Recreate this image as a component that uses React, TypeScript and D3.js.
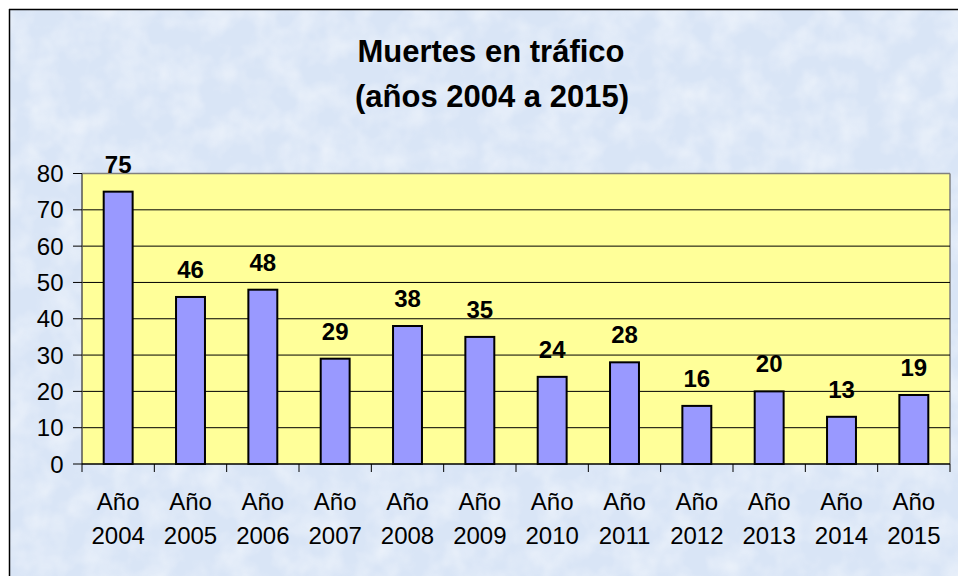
import React from "react";
import * as d3 from "d3";

const categories = ["2004", "2005", "2006", "2007", "2008", "2009", "2010", "2011", "2012", "2013", "2014", "2015"];
const values = [75, 46, 48, 29, 38, 35, 24, 28, 16, 20, 13, 19];
const yTicks = [0, 10, 20, 30, 40, 50, 60, 70, 80];
const titleLines = ["Muertes en tráfico", "(años 2004 a 2015)"];
const catPrefix = "Año";

const W = 958;
const H = 576;
const plot = { left: 82, right: 950, top: 173.5, bottom: 464 };
const FONT = "Arial, 'Liberation Sans', Helvetica, sans-serif";

export default function App() {
  const x = d3
    .scaleBand<string>()
    .domain(categories)
    .range([plot.left, plot.right])
    .paddingInner(0.6)
    .paddingOuter(0.3);
  const xOuter = d3.scaleBand<string>().domain(categories).range([plot.left, plot.right]);
  const y = d3.scaleLinear().domain([0, 80]).range([plot.bottom, plot.top]);

  const boundaries = [...categories.map((c) => xOuter(c) as number), plot.right];

  return (
    <svg
      width={W}
      height={H}
      style={{ position: "absolute", left: 0, top: 0, display: "block" }}
      fontFamily={FONT}
    >
      <defs>
        <filter id="tex" x="0" y="0" width="100%" height="100%">
          <feTurbulence type="fractalNoise" baseFrequency="0.035" numOctaves="3" seed="7" result="n" />
          <feColorMatrix
            in="n"
            type="matrix"
            values="0 0 0 0 1  0 0 0 0 1  0 0 0 0 1  0 0 0 -1.4 0.9"
            result="w"
          />
          <feComposite in="w" in2="SourceGraphic" operator="in" />
        </filter>
      </defs>
      <rect x={0} y={0} width={W} height={H} fill="#ffffff" />
      <rect x={9} y={9} width={W - 9} height={H - 9} fill="#d9e5f6" />
      <rect x={9} y={9} width={W - 9} height={H - 9} fill="#d9e5f6" filter="url(#tex)" opacity={0.6} />
      <line x1={9.5} y1={9} x2={9.5} y2={H} stroke="#000" strokeWidth={1.5} />
      <line x1={9} y1={9.5} x2={W} y2={9.5} stroke="#000" strokeWidth={1.5} />

      {/* Title */}
      <text x={491} y={62} textAnchor="middle" fontSize={31} fontWeight="bold" fill="#000">
        {titleLines[0]}
      </text>
      <text x={492} y={107} textAnchor="middle" fontSize={31} fontWeight="bold" fill="#000">
        {titleLines[1]}
      </text>

      {/* Plot area */}
      <rect
        x={plot.left}
        y={plot.top}
        width={plot.right - plot.left}
        height={plot.bottom - plot.top}
        fill="#FFFF99"
      />
      <line x1={plot.left} y1={plot.top} x2={plot.right} y2={plot.top} stroke="#808080" strokeWidth={1.5} />
      <line x1={plot.right} y1={plot.top} x2={plot.right} y2={plot.bottom} stroke="#808080" strokeWidth={1.5} />

      {/* Gridlines */}
      {yTicks
        .filter((t) => t > 0 && t < 80)
        .map((t) => (
          <line key={t} x1={plot.left} x2={plot.right} y1={y(t)} y2={y(t)} stroke="#000" strokeWidth={1} />
        ))}

      {/* Bars */}
      {categories.map((c, i) => (
        <rect
          key={c}
          x={x(c)}
          y={y(values[i])}
          width={x.bandwidth()}
          height={y(0) - y(values[i])}
          fill="#9999FF"
          stroke="#000"
          strokeWidth={2}
        />
      ))}

      {/* Value labels */}
      {categories.map((c, i) => (
        <text
          key={c}
          x={(x(c) as number) + x.bandwidth() / 2}
          y={y(values[i]) - 19}
          textAnchor="middle"
          fontSize={24}
          fontWeight="bold"
          fill="#000"
        >
          {values[i]}
        </text>
      ))}

      {/* Y axis */}
      <line x1={plot.left} y1={plot.top} x2={plot.left} y2={plot.bottom} stroke="#555" strokeWidth={1.5} />
      {yTicks.map((t) => (
        <g key={t}>
          <line x1={plot.left - 9} x2={plot.left} y1={y(t)} y2={y(t)} stroke="#000" strokeWidth={1} />
          <text x={63.5} y={y(t)} dy="0.36em" textAnchor="end" fontSize={24} fill="#000">
            {t}
          </text>
        </g>
      ))}

      {/* X axis */}
      <line x1={plot.left} y1={plot.bottom} x2={plot.right} y2={plot.bottom} stroke="#000" strokeWidth={1.5} />
      {boundaries.map((b, i) => (
        <line key={i} x1={b} x2={b} y1={plot.bottom} y2={plot.bottom + 8} stroke="#000" strokeWidth={1} />
      ))}
      {categories.map((c) => {
        const cx = (xOuter(c) as number) + xOuter.bandwidth() / 2;
        return (
          <g key={c}>
            <text x={cx} y={510} textAnchor="middle" fontSize={24} fill="#000">
              {catPrefix}
            </text>
            <text x={cx} y={544} textAnchor="middle" fontSize={24} fill="#000">
              {c}
            </text>
          </g>
        );
      })}
    </svg>
  );
}
